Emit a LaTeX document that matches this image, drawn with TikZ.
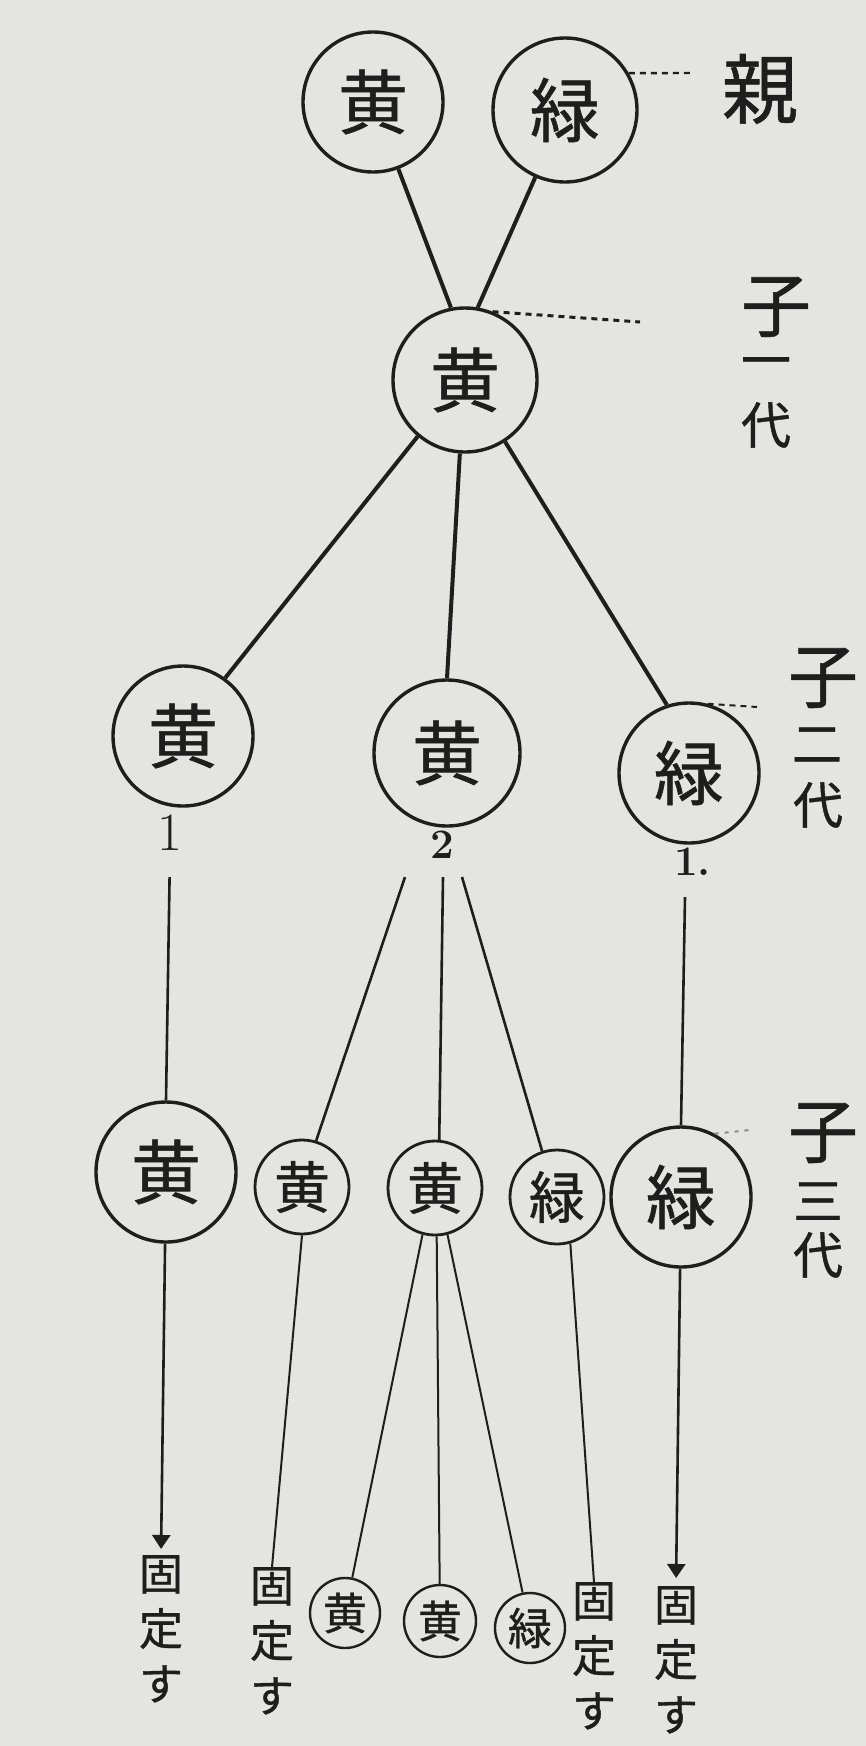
\documentclass[tikz,border=0pt]{standalone}
\usepackage{fontspec}
\newfontfamily\jp{Noto Sans CJK JP}[FakeBold=0.8]
\usetikzlibrary{arrows.meta}
\definecolor{paper}{HTML}{E4E4E2}
\definecolor{ink}{HTML}{1E1E1E}
\definecolor{faint}{HTML}{8A8A8A}
\begin{document}
\begin{tikzpicture}[x=1pt,y=-1pt,
  every node/.style={text=ink},
  gene/.style={circle, draw=ink, line width=3.4pt, inner sep=0pt},
  bigc/.style={gene, minimum size=140pt, font=\jp\fontsize{70}{70}\selectfont},
  midc/.style={gene, minimum size=94pt, line width=2.8pt, font=\jp\fontsize{56}{56}\selectfont},
  smallc/.style={gene, minimum size=70pt, line width=2.4pt, font=\jp\fontsize{44}{44}\selectfont},
  genlab/.style={font=\jp\fontsize{70}{70}\selectfont, inner sep=0pt},
  gensub/.style={font=\jp\fontsize{50}{50}\selectfont, inner sep=0pt},
  fixed/.style={font=\jp\fontsize{44}{55}\selectfont, align=center, inner sep=0pt, anchor=north},
  num/.style={font=\fontsize{42}{42}\selectfont\bfseries, inner sep=0pt},
  heavylink/.style={draw=ink, line width=4pt},
  midlink/.style={draw=ink, line width=2.6pt},
  thinlink/.style={draw=ink, line width=2pt},
  dotline/.style={draw=ink, line width=3pt, dash pattern=on 6pt off 5pt},
  faintdots/.style={draw=faint, line width=2pt, dash pattern=on 4pt off 6pt},
  arrowend/.style={-{Triangle[length=14pt,width=18pt]}}
]
\fill[paper] (0,0) rectangle (866,1746);

% parents
\node[bigc] (P1) at (373,102) {黄};
\node[bigc, minimum size=144pt] (P2) at (565,110) {緑};
\node[genlab, font=\jp\fontsize{76}{76}\selectfont] (oya) at (760,89) {親};
\coordinate (P2d) at (693,73);
\draw[dotline, line width=2.4pt] (P2.30) -- (P2d);

% first generation
\node[bigc, minimum size=144pt] (F1) at (465,380) {黄};
\draw[heavylink] (P1) -- (F1.101);
\draw[heavylink] (P2) -- (F1.80);
\coordinate (F1d) at (640,322);
\draw[dotline] (F1.68) -- (F1d);
\node[genlab] (k1a) at (776,307) {子};
\node[gensub] (k1b) at (766,368) {一};
\node[gensub] (k1c) at (766,425) {代};

% second generation
\node[bigc] (S1) at (183,736) {黄};
\node[bigc, minimum size=146pt] (S2) at (447,753) {黄};
\node[bigc] (S3) at (689,773) {緑};
\draw[heavylink] (F1.230) -- (S1.54);
\draw[heavylink] (F1.266) -- (S2.north);
\draw[heavylink] (F1.303) -- (S3.108);
\coordinate (S3d) at (757,707);
\draw[dotline, line width=2pt] (S3.75) -- (S3d);
\node[genlab] (k2a) at (823,678) {子};
\node[gensub] (k2b) at (817,745) {二};
\node[gensub] (k2c) at (818,805) {代};

\node[num, font=\fontsize{54}{54}\selectfont] (n1) at (170,833) {1};
\node[num] (n2) at (442,845) {2};
\node[num, anchor=west] (n3) at (674,862) {1.};

% third generation
\node[bigc] (T1) at (166,1172) {黄};
\node[midc] (T2) at (302,1187) {黄};
\node[midc] (T3) at (435,1188) {黄};
\node[midc] (T4) at (557,1197) {緑};
\node[bigc] (T5) at (681,1197) {緑};
\node[genlab] (k3a) at (823,1133) {子};
\node[gensub] (k3b) at (818,1201) {三};
\node[gensub] (k3c) at (818,1255) {代};
\coordinate (T5d) at (750,1130);
\draw[faintdots] (T5.62) -- (T5d);

\draw[midlink, shorten <=26pt] (n1.south) -- (T1.north);
\coordinate (f2a) at (405,877);
\coordinate (f2b) at (443,877);
\coordinate (f2c) at (462,877);
\draw[midlink] (f2a) -- (T2.73);
\draw[midlink] (f2b) -- (T3.85);
\draw[midlink] (f2c) -- (T4.108);
\coordinate (n3b) at (685,897);
\draw[midlink] (n3b) -- (T5.north);

% fourth row
\node[fixed] (x1) at (161,1555) {固\\定\\す};
\node[fixed] (x2) at (272,1567) {固\\定\\す};
\node[fixed] (x3) at (594,1582) {固\\定\\す};
\node[fixed] (x4) at (676,1586) {固\\定\\す};
\node[smallc] (a) at (345,1613) {黄};
\node[smallc, minimum size=72pt] (b) at (440,1621) {黄};
\node[smallc] (c) at (530,1628) {緑};

\draw[midlink, arrowend, shorten >=6pt] (T1) -- (x1.north);
\draw[thinlink] (T2.south) -- (x2.north);
\draw[thinlink] (T3.255) -- (a);
\draw[thinlink] (T3.272) -- (b);
\draw[thinlink] (T3.285) -- (c);
\draw[thinlink] (T4.286) -- (x3.north);
\draw[midlink, arrowend, shorten >=8pt] (T5) -- (x4.north);
\end{tikzpicture}
\end{document}
